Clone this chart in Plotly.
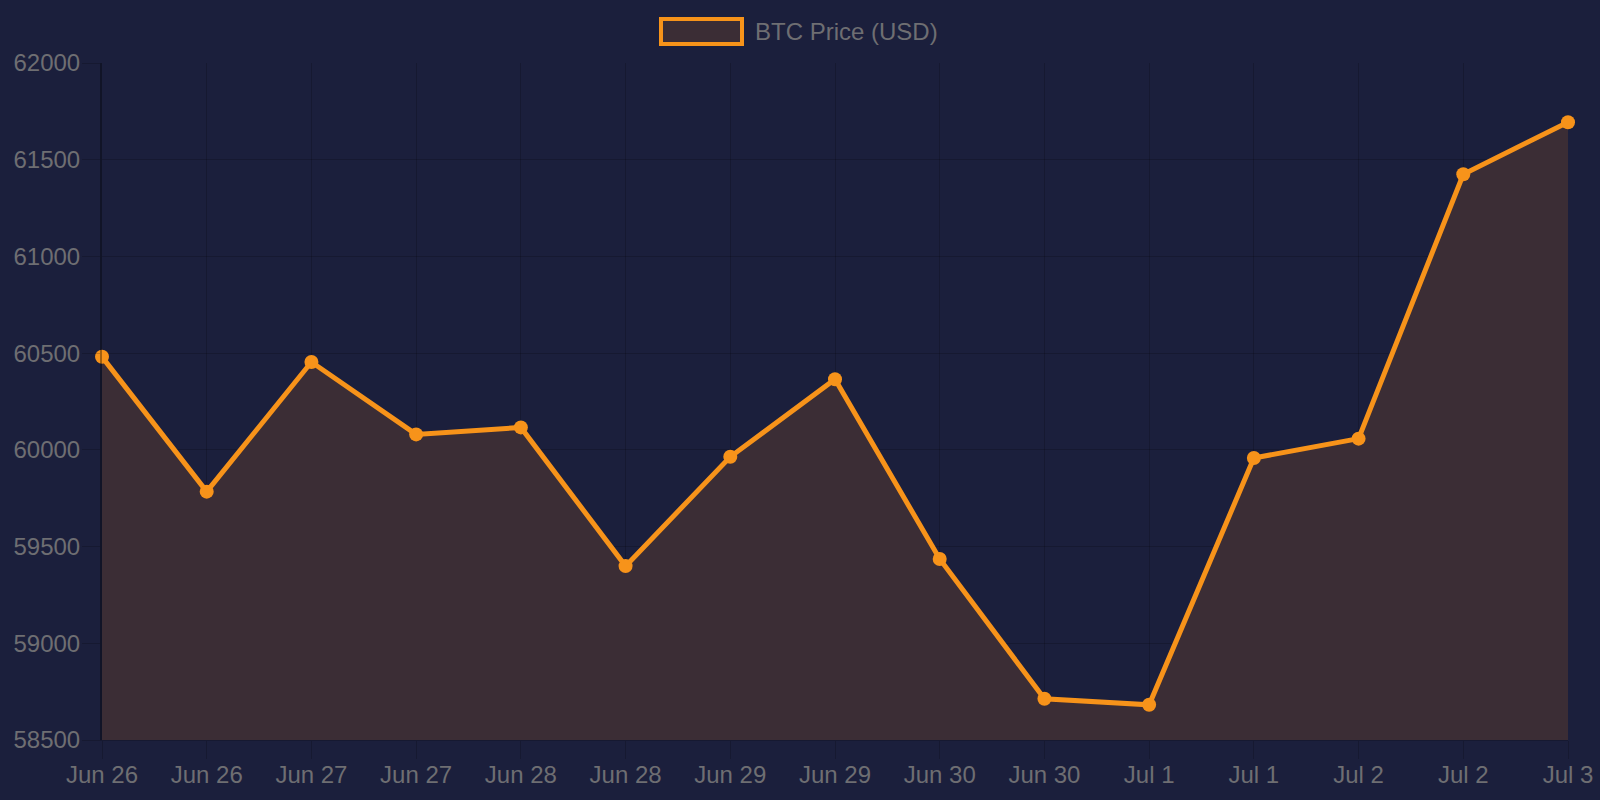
import plotly.graph_objects as go

labels = ["Jun 26", "Jun 26", "Jun 27", "Jun 27", "Jun 28", "Jun 28", "Jun 29", "Jun 29",
          "Jun 30", "Jun 30", "Jul 1", "Jul 1", "Jul 2", "Jul 2", "Jul 3"]
prices = [60481, 59784, 60454, 60080, 60116, 59399, 59964, 60365,
          59436, 58713, 58682, 59958, 60058, 61425, 61694]
series_name = "BTC Price (USD)"

x = list(range(len(labels)))
BG = "#1b1f3c"
ORANGE = "#f7931a"
FILL = "#3b2d35"
GRID = "rgba(0,0,0,0.18)"
TXT = "#6e6e72"

fig = go.Figure()
fig.add_trace(go.Scatter(
    x=x, y=prices, mode="lines+markers", name=series_name,
    line=dict(color=ORANGE, width=5),
    marker=dict(color=ORANGE, size=14),
    fill="tozeroy", fillcolor=FILL, cliponaxis=False, showlegend=False,
))

fig.update_layout(
    width=1600, height=800,
    paper_bgcolor=BG, plot_bgcolor=BG,
    margin=dict(l=102, r=32, t=63, b=60),
    font=dict(family="Liberation Sans, Arial, sans-serif", size=24, color=TXT),
    xaxis=dict(range=[0, 14], tickvals=x, ticktext=labels, showgrid=True,
               gridcolor=GRID, gridwidth=1, zeroline=False, automargin=False,
               ticks="outside", ticklen=18, tickcolor=GRID, ticklabelstandoff=-5,
               showline=True, linecolor=GRID, linewidth=1),
    yaxis=dict(range=[58500, 62000], dtick=500, showgrid=True, gridcolor=GRID,
               zeroline=False, automargin=False, ticks="outside", ticklen=18,
               tickcolor=GRID, ticklabelstandoff=-3, showline=True,
               linecolor="rgba(0,0,0,0.35)", linewidth=2, tickformat="d"),
    shapes=[dict(type="rect", xref="paper", yref="paper",
                 x0=(661 - 102) / 1466, x1=(742 - 102) / 1466,
                 y0=(740 - 44) / 677, y1=(740 - 19) / 677,
                 fillcolor=FILL, line=dict(color=ORANGE, width=4))],
    annotations=[dict(text=series_name, xref="paper", yref="paper",
                      x=(753 - 102) / 1466, y=(740 - 31) / 677,
                      xanchor="left", yanchor="middle", showarrow=False,
                      font=dict(size=24, color=TXT))],
)

fig.write_html("out.html")
